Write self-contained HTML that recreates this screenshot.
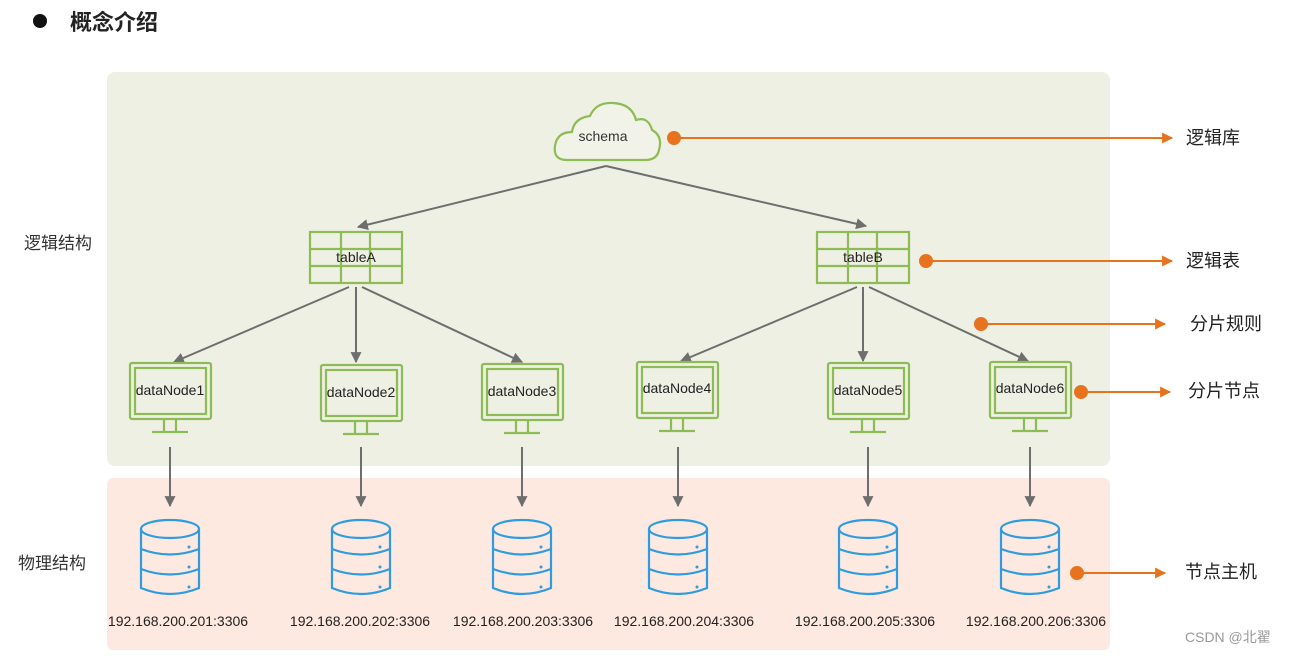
<!DOCTYPE html>
<html><head><meta charset="utf-8"><style>
body{margin:0;background:#fff;}
svg{display:block;font-family:"Liberation Sans","Noto Sans CJK SC",sans-serif;}
</style></head><body>
<svg width="1314" height="656" viewBox="0 0 1314 656" xmlns="http://www.w3.org/2000/svg">
<defs>
<marker id="ga" viewBox="0 0 10 10" refX="9" refY="5" markerWidth="11" markerHeight="11" orient="auto-start-reverse" markerUnits="userSpaceOnUse"><path d="M0,0 L10,5 L0,10 z" fill="#6e6e6e"/></marker>
<marker id="oa" viewBox="0 0 10 10" refX="9" refY="5" markerWidth="12" markerHeight="11" orient="auto" markerUnits="userSpaceOnUse"><path d="M0,0 L10,5 L0,10 z" fill="#e8731f"/></marker>
<g id="mon" fill="none" stroke="#8dbb55" stroke-width="2.2">
<rect x="-40" y="0" width="81" height="56" rx="2"/>
<rect x="-35" y="5" width="71" height="46"/>
<line x1="-6" y1="56" x2="-6" y2="68"/><line x1="6" y1="56" x2="6" y2="68"/>
<line x1="-18" y1="69" x2="18" y2="69"/>
</g>
<g id="db" fill="none" stroke="#2f9be0" stroke-width="2.2">
<ellipse cx="0" cy="9" rx="29" ry="9"/>
<path d="M-29,9 V68 Q0,80 29,68 V9"/>
<path d="M-29,29 Q0,40 29,29"/>
<path d="M-29,49 Q0,60 29,49"/>
<circle cx="19" cy="27" r="1.5" fill="#2f9be0" stroke="none"/>
<circle cx="19" cy="47" r="1.5" fill="#2f9be0" stroke="none"/>
<circle cx="19" cy="67" r="1.5" fill="#2f9be0" stroke="none"/>
</g>
<g id="tbl" fill="none" stroke="#8dbb55" stroke-width="2.2">
<rect x="0" y="0" width="92" height="51"/>
<line x1="0" y1="17" x2="92" y2="17"/><line x1="0" y1="34" x2="92" y2="34"/>
<line x1="31" y1="0" x2="31" y2="51"/><line x1="60" y1="0" x2="60" y2="51"/>
</g>
</defs>
<circle cx="40" cy="21" r="7" fill="#111"/>
<text x="70" y="30" font-size="22" font-weight="bold" fill="#222">概念介绍</text>
<rect x="107" y="72" width="1003" height="394" rx="8" fill="#eef0e3"/>
<rect x="107" y="478" width="1003" height="172" rx="6" fill="#fde9df"/>
<text x="24" y="249" font-size="17" fill="#333">逻辑结构</text>
<text x="18" y="569" font-size="17" fill="#333">物理结构</text>
<path d="M567,160 Q553,160 555,146 Q557,132 572,132 Q574,118 590,116 Q596,102 613,103 Q632,104 636,120 Q648,116 652,130 Q663,136 659,150 Q657,160 645,160 Z" fill="#f1f3e8" stroke="#8dbb55" stroke-width="2.2"/>
<text x="603" y="141" font-size="14" fill="#333" text-anchor="middle">schema</text>
<g stroke="#6e6e6e" stroke-width="2" fill="none">
<line x1="606" y1="166" x2="358" y2="227" marker-end="url(#ga)"/>
<line x1="606" y1="166" x2="866" y2="226" marker-end="url(#ga)"/>
<line x1="349" y1="287" x2="174" y2="362" marker-end="url(#ga)"/>
<line x1="356" y1="287" x2="356" y2="362" marker-end="url(#ga)"/>
<line x1="362" y1="287" x2="522" y2="362" marker-end="url(#ga)"/>
<line x1="857" y1="287" x2="681" y2="361" marker-end="url(#ga)"/>
<line x1="863" y1="287" x2="863" y2="361" marker-end="url(#ga)"/>
<line x1="869" y1="287" x2="1028" y2="361" marker-end="url(#ga)"/>
<line x1="170" y1="447" x2="170" y2="506" marker-end="url(#ga)"/>
<line x1="361" y1="447" x2="361" y2="506" marker-end="url(#ga)"/>
<line x1="522" y1="447" x2="522" y2="506" marker-end="url(#ga)"/>
<line x1="678" y1="447" x2="678" y2="506" marker-end="url(#ga)"/>
<line x1="868" y1="447" x2="868" y2="506" marker-end="url(#ga)"/>
<line x1="1030" y1="447" x2="1030" y2="506" marker-end="url(#ga)"/>
</g>
<use href="#tbl" x="310" y="232"/>
<use href="#tbl" x="817" y="232"/>
<text x="356" y="262" font-size="14" fill="#222" text-anchor="middle">tableA</text>
<text x="863" y="262" font-size="14" fill="#222" text-anchor="middle">tableB</text>
<use href="#mon" x="170" y="363"/><use href="#mon" x="361" y="365"/><use href="#mon" x="522" y="364"/>
<use href="#mon" x="677" y="362"/><use href="#mon" x="868" y="363"/><use href="#mon" x="1030" y="362"/>
<g font-size="14" fill="#222" text-anchor="middle">
<text x="170" y="395">dataNode1</text><text x="361" y="397">dataNode2</text><text x="522" y="396">dataNode3</text>
<text x="677" y="393">dataNode4</text><text x="868" y="395">dataNode5</text><text x="1030" y="393">dataNode6</text>
</g>
<use href="#db" x="170" y="520"/><use href="#db" x="361" y="520"/><use href="#db" x="522" y="520"/>
<use href="#db" x="678" y="520"/><use href="#db" x="868" y="520"/><use href="#db" x="1030" y="520"/>
<g font-size="14" fill="#222" text-anchor="middle">
<text x="178" y="626">192.168.200.201:3306</text><text x="360" y="626">192.168.200.202:3306</text>
<text x="523" y="626">192.168.200.203:3306</text><text x="684" y="626">192.168.200.204:3306</text>
<text x="865" y="626">192.168.200.205:3306</text><text x="1036" y="626">192.168.200.206:3306</text>
</g>
<g stroke="#e8731f" stroke-width="2" fill="#e8731f">
<circle cx="674" cy="138" r="7" stroke="none"/><line x1="674" y1="138" x2="1172" y2="138" marker-end="url(#oa)"/>
<circle cx="926" cy="261" r="7" stroke="none"/><line x1="926" y1="261" x2="1172" y2="261" marker-end="url(#oa)"/>
<circle cx="981" cy="324" r="7" stroke="none"/><line x1="981" y1="324" x2="1165" y2="324" marker-end="url(#oa)"/>
<circle cx="1081" cy="392" r="7" stroke="none"/><line x1="1081" y1="392" x2="1170" y2="392" marker-end="url(#oa)"/>
<circle cx="1077" cy="573" r="7" stroke="none"/><line x1="1077" y1="573" x2="1165" y2="573" marker-end="url(#oa)"/>
</g>
<g font-size="18" fill="#222">
<text x="1186" y="144">逻辑库</text><text x="1186" y="267">逻辑表</text>
<text x="1190" y="330">分片规则</text><text x="1188" y="397">分片节点</text>
<text x="1185" y="578">节点主机</text>
</g>
<text x="1185" y="642" font-size="14" fill="#999">CSDN @北翟</text>
</svg>
</body></html>
